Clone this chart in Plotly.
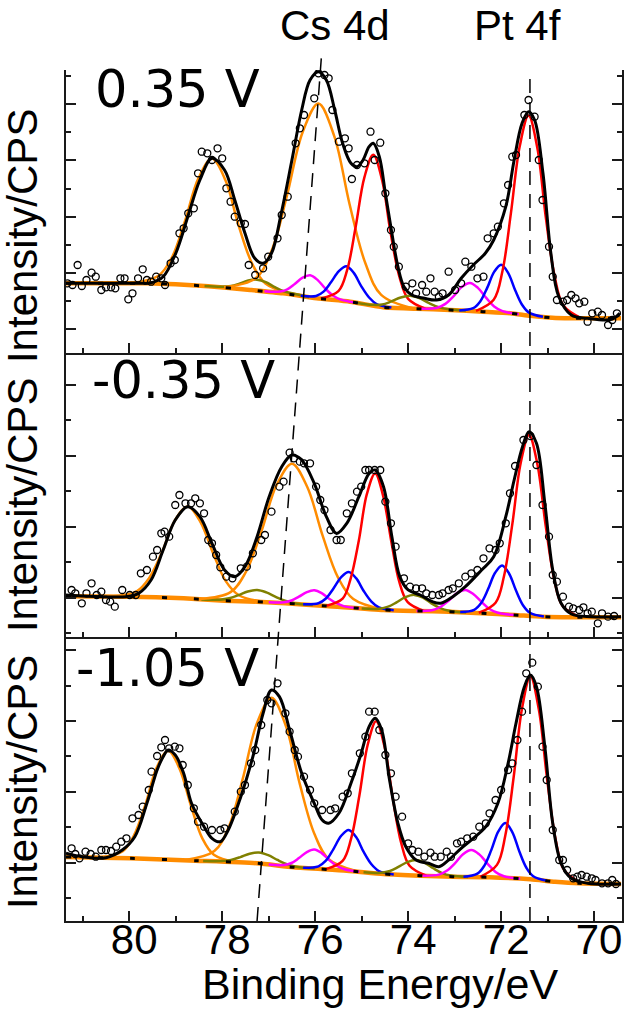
import plotly.graph_objects as go

# ---------------- colours / fonts ----------------
ORANGE = "#FF8C00"
RED = "#FF0000"
BLUE = "#0000FF"
MAGENTA = "#FF00FF"
OLIVE = "#808000"
AX = "#1a1a1a"
FONT = "Liberation Sans, Arial, sans-serif"
LABEL_FONT = "DejaVu Sans, Verdana, sans-serif"

# ---------------- shared x axis ----------------
ev_range = [81.36, 69.40]
x_major_ticks = [80, 78, 76, 74, 72, 70]
x_tick_labels = ["80", "78", "76", "74", "72", "70"]
x_minor_ticks = [81, 79, 77, 75, 73, 71]
cs_guide_ev = [77.25, 75.86]   # dashed guide (bottom, top)
pt_guide_ev = 71.38

panel_labels = ["0.35 V", "-0.35 V", "-1.05 V"]

# ======================= 0.35 V (top) =======================
p1_data_ev = [81.33,81.22,81.11,81.02,80.92,80.81,80.72,80.60,80.50,80.39,80.30,80.19,80.10,80.02,79.93,79.81,79.71,79.62,79.53,79.42,79.31,79.23,79.11,79.02,78.92,78.83,78.73,78.61,78.52,78.44,78.32,78.22,78.10,78.00,77.91,77.82,77.73,77.60,77.51,77.43,77.29,77.12,77.01,76.81,76.72,76.59,76.42,76.33,76.24,76.02,75.93,75.80,75.71,75.63,75.49,75.36,75.28,75.21,75.10,74.94,74.81,74.72,74.60,74.49,74.37,74.31,74.20,74.05,73.91,73.83,73.70,73.61,73.52,73.43,73.34,73.26,73.13,72.99,72.86,72.77,72.64,72.51,72.38,72.29,72.16,72.07,71.94,71.85,71.76,71.68,71.50,71.41,71.28,71.19,71.11,70.97,70.89,70.80,70.67,70.58,70.49,70.40,70.32,70.21,70.14,70.04,69.92,69.83,69.70,69.61,69.51]
p1_data_int = [70.0,68.3,88.3,67.3,73.3,80.6,76.6,63.3,66.0,66.0,65.0,75.0,75.0,54.0,60.0,75.0,84.0,73.3,71.6,76.6,75.0,68.3,90.0,93.3,120.0,125.0,140.0,145.0,180.0,201.6,200.0,193.3,205.0,195.0,165.0,151.6,136.6,130.0,129.3,88.3,78.3,85.0,96.6,115.0,138.3,156.6,210.0,225.0,238.3,255.0,280.0,278.3,275.0,243.3,211.6,215.0,205.0,174.3,188.3,190.0,221.6,193.3,210.6,160.0,123.3,106.6,86.6,66.6,70.0,60.0,68.3,61.6,75.0,61.6,56.6,60.0,81.6,63.3,70.0,91.6,86.6,75.0,76.6,115.0,120.0,126.6,150.0,168.3,196.6,198.3,238.3,253.3,236.6,193.3,153.3,106.6,76.6,53.3,51.6,53.3,58.3,55.0,50.0,51.6,31.6,40.0,41.6,38.3,28.3,33.3,40.0]
p1_fit_ev = [81.36,80.5,79.8,79.53,79.27,79.0,78.74,78.48,78.22,77.95,77.73,77.51,77.3,77.12,76.94,76.73,76.5,76.29,76.11,75.93,75.76,75.58,75.41,75.23,75.1,74.97,74.84,74.75,74.62,74.49,74.35,74.22,74.09,73.92,73.65,73.39,73.13,72.86,72.6,72.34,72.16,71.9,71.72,71.55,71.41,71.28,71.1,70.93,70.76,70.49,70.14,69.62,69.45]
p1_fit_int = [70,70,70,70.5,76.6,100,136.6,173.3,195,183.3,153.3,120,95,90,100,140,193.3,243.3,273.3,281.6,273.3,243.3,210,190,186.6,193.3,206.6,210,196.6,160,120,86.6,66.6,58.3,55,53.3,58.3,75,88.3,100,113.3,146.6,193.3,230,241.6,233.3,180,100,56.6,38.3,35,34,40]
p1_bg_ev = [81.36,79.6,79.0,78.3,77.4,76.69,75.97,75.25,74.54,73.82,73.1,72.39,71.8,71.37,70.9,70.5,69.42]
p1_bg_int = [70,70,69,67,63.3,60,55,51.6,46,44.6,43.3,41.6,40,37.5,35.5,35,35]
p1_or1_ev = [79.95,79.37,79.08,78.80,78.51,78.22,77.93,77.65,77.36,77.07,76.50]
p1_or1_int = [70.3,77.6,96.0,132.4,175.2,194.7,173.1,128.3,90.0,69.8,59.0]
p1_ol1_ev = [78.38,78.0,77.81,77.63,77.44,77.25,77.06,76.88,76.69,76.5,76.13]
p1_ol1_int = [67.2,66.5,67.3,69.7,72.8,73.6,71.1,66.5,62.3,60.0,56.1]
p1_or2_ev = [77.96,77.28,76.94,76.61,76.27,75.93,75.59,75.26,74.92,74.58,73.91]
p1_or2_int = [66.0,75.0,102.2,157.0,221.1,249.8,217.2,149.1,90.0,58.5,45.2]
p1_mg1_ev = [77.09,76.76,76.60,76.44,76.27,76.11,75.95,75.79,75.62,75.46,75.14]
p1_mg1_int = [62.0,61.7,64.0,69.3,75.6,78.0,73.4,65.1,57.9,54.0,50.7]
p1_bl1_ev = [76.31,75.98,75.82,75.66,75.49,75.33,75.17,75.01,74.84,74.68,74.36]
p1_bl1_int = [57.5,57.3,61.7,71.0,82.1,87.0,80.4,67.2,55.8,49.3,45.7]
p1_rd1_ev = [75.88,75.50,75.31,75.13,74.94,74.75,74.56,74.38,74.19,74.0,73.63]
p1_rd1_int = [54.9,62.2,83.6,126.3,176.2,198.6,173.1,121.2,77.0,54.4,44.6]
p1_ol2_ev = [75.16,74.76,74.56,74.36,74.16,73.96,73.76,73.56,73.36,73.16,72.76]
p1_ol2_int = [50.9,48.5,48.7,51.9,55.8,57.5,55.1,50.4,46.4,44.2,42.5]
p1_mg2_ev = [73.72,73.37,73.20,73.02,72.85,72.67,72.50,72.32,72.15,71.97,71.62]
p1_mg2_int = [44.5,45.6,49.4,57.1,66.2,70.3,65.4,55.4,46.9,42.2,39.1]
p1_bl2_ev = [72.9,72.6,72.45,72.3,72.15,72.0,71.85,71.7,71.55,71.4,71.1]
p1_bl2_int = [42.9,45.1,51.8,65.4,81.4,88.6,80.5,63.4,48.6,40.7,36.5]
p1_rd2_ev = [72.54,72.16,71.97,71.79,71.60,71.41,71.22,71.04,70.85,70.66,70.29]
p1_rd2_int = [42.4,53.5,82.5,139.9,207.0,237.7,205.1,136.1,77.4,47.7,35.4]
p1_y_major = [24, 80.3, 136.6, 193, 249.3]
p1_y_minor = [52.15, 108.45, 164.8, 221.1, 277.4]

# ======================= -0.35 V (middle) =======================
p2_data_ev = [81.24,81.16,81.02,80.92,80.81,80.70,80.60,80.50,80.41,80.31,80.15,79.99,79.86,79.75,79.62,79.49,79.40,79.31,79.24,79.14,79.01,78.92,78.79,78.67,78.58,78.48,78.39,78.30,78.22,78.13,78.04,77.91,77.78,77.60,77.47,77.34,77.16,77.08,76.94,76.77,76.68,76.55,76.46,76.33,76.24,76.11,75.98,75.89,75.80,75.67,75.54,75.45,75.32,75.21,75.10,75.01,74.92,74.84,74.72,74.60,74.49,74.37,74.27,74.09,73.96,73.83,73.70,73.61,73.48,73.34,73.26,73.13,73.04,72.91,72.77,72.64,72.51,72.38,72.25,72.12,72.03,71.90,71.81,71.70,71.52,71.37,71.24,71.11,70.97,70.89,70.80,70.67,70.54,70.45,70.32,70.23,70.14,70.05,69.92,69.83,69.70,69.57]
p2_data_int = [47.3,44.0,34.0,44.0,54.0,42.3,45.6,37.3,35.6,30.6,47.3,42.3,42.3,64.0,67.3,80.6,87.3,104.0,105.6,100.6,132.3,142.3,134.0,134.0,139.0,134.0,124.0,97.3,94.0,82.3,70.0,60.6,59.0,69.0,70.6,84.0,97.3,102.3,125.6,150.6,155.6,184.6,179.0,175.6,174.0,174.0,150.6,137.3,127.3,107.3,97.3,97.3,124.0,134.0,145.6,150.6,167.3,167.3,167.3,167.3,135.6,114.0,90.6,59.0,50.6,49.0,49.0,44.0,42.3,42.3,44.0,47.3,49.0,54.0,60.6,64.0,67.3,79.0,89.0,87.3,94.0,114.0,144.0,171.3,197.3,201.3,172.3,132.3,100.6,62.3,55.6,40.6,30.6,29.0,27.3,30.0,24.0,25.6,14.0,24.0,20.6,21.3]
p2_fit_ev = [81.36,80.59,80.06,79.80,79.53,79.27,79.01,78.74,78.48,78.22,77.95,77.73,77.51,77.25,76.99,76.72,76.50,76.29,76.02,75.76,75.54,75.32,75.06,74.84,74.71,74.53,74.35,74.18,74.00,73.74,73.48,73.30,73.04,72.77,72.42,72.16,71.90,71.72,71.54,71.40,71.24,71.06,70.89,70.71,70.49,70.05,69.42]
p2_fit_int = [42.3,40.6,40.6,43.9,57.3,87.3,117.3,130.6,120.6,94,67.3,60.6,70.6,100.6,140.6,170.6,182.3,177.3,153.9,120.6,103.9,113.9,140.6,163.9,167.3,150.6,100.6,60.6,47.3,42.3,35.6,34,40.6,50.6,67.3,80.6,120.6,157.3,190.6,205.6,194,134,67.3,34,23.3,20.6,20.6]
p2_bg_ev = [81.36,80.0,78.83,77.95,77.25,76.64,75.76,74.53,73.83,73.13,72.42,71.72,71.11,70.49,69.42]
p2_bg_int = [41,40.6,39,36.6,35.6,34,31.3,27.3,26.3,25.6,24,22.3,20.6,20,20]
p2_or1_ev = [80.39,79.84,79.57,79.29,79.02,78.74,78.47,78.19,77.92,77.64,77.09]
p2_or1_int = [40.8,46.0,59.3,85.6,116.7,130.8,115.4,83.3,55.9,42.0,35.4]
p2_ol1_ev = [78.45,78.05,77.85,77.65,77.45,77.25,77.05,76.85,76.65,76.45,76.05]
p2_ol1_int = [37.9,37.6,39.0,42.1,45.7,47.3,44.9,40.5,36.5,34.1,32.2]
p2_or2_ev = [78.48,77.82,77.49,77.16,76.83,76.50,76.17,75.84,75.51,75.18,74.52]
p2_or2_int = [38.3,45.2,65.4,105.4,152.3,173.6,150.3,101.6,59.9,38.2,27.6]
p2_mg1_ev = [77.0,76.67,76.51,76.35,76.18,76.02,75.86,75.70,75.53,75.37,75.05]
p2_mg1_int = [35.0,35.0,36.8,40.6,45.2,47.1,44.2,38.6,33.8,30.9,29.0]
p2_bl1_ev = [76.26,75.93,75.77,75.61,75.44,75.28,75.12,74.96,74.79,74.63,74.31]
p2_bl1_int = [33.0,34.0,38.8,48.6,60.2,65.3,59.1,46.5,35.6,29.8,27.1]
p2_rd1_ev = [75.76,75.41,75.24,75.06,74.89,74.71,74.54,74.36,74.19,74.01,73.66]
p2_rd1_int = [31.6,38.7,58.2,97.0,142.9,163.9,141.7,95.1,55.4,35.1,26.4]
p2_ol2_ev = [75.0,74.62,74.43,74.25,74.06,73.87,73.68,73.50,73.31,73.12,72.75]
p2_ol2_int = [28.8,28.6,30.6,34.9,40.1,42.4,39.6,33.9,29.2,26.6,24.7]
p2_mg2_ev = [73.82,73.47,73.30,73.12,72.95,72.77,72.60,72.42,72.25,72.07,71.72]
p2_mg2_int = [26.3,27.3,30.5,36.9,44.1,47.3,43.3,35.3,28.3,24.5,22.3]
p2_bl2_ev = [72.88,72.58,72.43,72.28,72.13,71.98,71.83,71.68,71.53,71.38,71.08]
p2_bl2_int = [25.2,27.5,34.3,48.2,64.5,71.9,63.8,46.7,32.1,24.5,20.7]
p2_rd2_ev = [72.48,72.12,71.94,71.76,71.58,71.40,71.22,71.04,70.86,70.68,70.32]
p2_rd2_int = [24.5,34.6,60.8,112.9,174.1,202.4,173.1,111.0,58.4,31.5,20.4]
p2_y_major = [39.6, 110.5, 181.4, 252.3]
p2_y_minor = [4.15, 75.05, 145.95, 216.85]

# ======================= -1.05 V (bottom) =======================
p3_data_ev = [81.24,81.16,81.07,80.94,80.83,80.72,80.60,80.50,80.39,80.28,80.17,80.06,79.93,79.80,79.71,79.58,79.52,79.40,79.31,79.23,79.14,79.02,78.92,78.85,78.74,78.61,78.52,78.39,78.22,78.04,77.95,77.73,77.60,77.51,77.38,77.29,77.16,77.03,76.94,76.81,76.64,76.55,76.44,76.37,76.24,76.11,76.02,75.85,75.67,75.57,75.41,75.30,75.21,75.04,74.92,74.84,74.72,74.62,74.49,74.37,74.27,74.13,74.00,73.91,73.78,73.65,73.52,73.43,73.30,73.17,73.08,72.95,72.86,72.73,72.60,72.47,72.33,72.25,72.12,72.00,71.85,71.76,71.65,71.55,71.46,71.33,71.21,71.11,71.02,70.89,70.75,70.67,70.58,70.45,70.36,70.27,70.16,70.05,69.97,69.83,69.70,69.61,69.53]
p3_data_int = [72.7,67.0,62.7,69.3,67.0,64.3,71.0,71.0,70.0,74.3,79.3,82.7,102.7,106.0,114.3,131.0,149.3,165.0,173.7,181.0,172.7,174.3,172.7,156.0,136.0,112.7,99.3,94.3,91.0,91.0,92.7,109.3,129.3,136.0,157.7,171.0,196.0,221.0,217.7,237.7,207.7,189.3,171.0,164.3,144.3,131.0,117.7,111.0,111.0,112.7,124.3,127.7,147.7,167.7,184.3,209.3,209.3,191.0,166.0,147.7,124.3,104.3,77.7,71.0,69.3,64.3,68.3,64.3,64.3,69.3,64.3,77.7,79.3,82.7,84.3,94.3,97.7,107.7,121.0,131.0,151.0,157.7,181.0,209.3,247.7,258.3,234.3,174.3,141.0,91.0,61.0,61.0,51.0,42.7,44.3,46.0,44.3,42.7,41.0,37.7,37.7,41.0,37.0]
p3_fit_ev = [81.36,81.02,80.50,80.15,79.88,79.62,79.40,79.27,79.16,79.01,78.83,78.66,78.39,78.22,78.04,77.87,77.60,77.34,77.12,76.94,76.77,76.55,76.29,76.02,75.85,75.71,75.49,75.23,75.01,74.84,74.71,74.57,74.40,74.22,74.05,73.83,73.56,73.34,73.13,72.86,72.60,72.33,72.07,71.85,71.68,71.50,71.37,71.24,71.06,70.89,70.71,70.49,70.14,69.42]
p3_fit_int = [67.7,64.3,63.3,71,84.3,117.7,151,164.3,171,166,147.7,117.7,94.3,82.7,79.3,91,124.3,164.3,207.7,231,224.3,191,147.7,117.7,101,97.7,107.7,137.7,167.7,194.3,202.7,191,141,97.7,74.3,61,57.7,54.3,61,72.7,82.7,94.3,117.7,157.7,197.7,234.3,246,234.3,174.3,97.7,57.7,42.7,37.7,37]
p3_bg_ev = [81.36,80.59,79.97,78.57,77.25,76.46,75.32,74.53,73.74,73.04,72.25,71.37,70.84,70.32,69.42]
p3_bg_int = [64,63.3,62.7,60.3,57.7,53.7,50.3,47,45.3,44.3,43.7,41.7,39.3,37.7,37]
p3_or1_ev = [80.63,80.14,79.90,79.65,79.41,79.16,78.92,78.67,78.43,78.18,77.69]
p3_or1_int = [63.5,69.7,85.5,116.6,153.4,170.3,152.6,115.0,82.9,66.3,58.7]
p3_ol1_ev = [78.41,78.01,77.81,77.61,77.41,77.21,77.01,76.81,76.61,76.41,76.01]
p3_ol1_int = [60.0,59.9,61.1,63.9,67.3,68.5,65.8,61.0,56.8,54.3,52.4]
p3_or2_ev = [78.79,78.17,77.86,77.56,77.25,76.94,76.63,76.33,76.02,75.71,75.10]
p3_or2_int = [61.0,69.9,94.0,141.8,198.1,223.2,195.0,136.8,87.5,61.9,49.7]
p3_mg1_ev = [77.0,76.67,76.51,76.35,76.18,76.02,75.86,75.70,75.53,75.37,75.05]
p3_mg1_int = [56.5,56.0,58.0,62.9,68.9,71.4,67.9,61.0,55.0,51.7,49.2]
p3_bl1_ev = [76.26,75.93,75.77,75.61,75.44,75.28,75.12,74.96,74.79,74.63,74.31]
p3_bl1_int = [53.2,54.7,60.3,71.7,85.2,91.1,84.0,69.3,56.7,50.0,46.6]
p3_rd1_ev = [75.77,75.41,75.23,75.05,74.87,74.69,74.51,74.33,74.15,73.97,73.61]
p3_rd1_int = [51.9,60.1,81.8,125.2,176.2,199.7,174.7,122.6,78.1,55.3,45.4]
p3_ol2_ev = [74.96,74.58,74.39,74.21,74.02,73.83,73.64,73.46,73.27,73.08,72.71]
p3_ol2_int = [48.8,48.2,50.0,54.1,58.9,61.0,58.1,52.7,47.9,45.4,44.0]
p3_mg2_ev = [73.69,73.34,73.17,72.99,72.82,72.64,72.47,72.29,72.12,71.94,71.59]
p3_mg2_int = [45.3,46.4,50.2,57.8,66.8,71.0,66.6,57.2,49.1,44.7,42.3]
p3_bl2_ev = [72.81,72.51,72.36,72.21,72.06,71.91,71.76,71.61,71.46,71.31,71.01]
p3_bl2_int = [44.2,47.3,55.4,71.1,89.6,97.9,88.9,69.7,53.5,44.8,40.2]
p3_rd2_ev = [72.45,72.09,71.91,71.73,71.55,71.37,71.19,71.01,70.83,70.65,70.29]
p3_rd2_int = [44.2,56.1,85.5,144.0,212.8,244.7,211.6,141.6,81.9,51.4,38.1]
p3_y_major = [58.3, 128.9, 200.1, 270.5]
p3_y_minor = [22.8, 93.5, 164.5, 235.2]

# ---------------- build figure ----------------
fig = go.Figure()


def add_panel(n, data_ev, data_int, fit_ev, fit_int, bg_ev, bg_int, comps):
    xa = "x" if n == 1 else "x%d" % n
    ya = "y" if n == 1 else "y%d" % n
    common = dict(xaxis=xa, yaxis=ya, hoverinfo="skip", showlegend=False)
    fig.add_trace(go.Scatter(x=bg_ev, y=bg_int, mode="lines",
                             line=dict(color=ORANGE, width=4.5, shape="spline", smoothing=0.6), **common))
    for cx, cy, col in comps:
        fig.add_trace(go.Scatter(x=cx, y=cy, mode="lines",
                                 line=dict(color=col, width=2.5, shape="spline", smoothing=1.0), **common))
    fig.add_trace(go.Scatter(x=bg_ev, y=bg_int, mode="lines",
                             line=dict(color="black", width=3, dash="5px,27px", shape="spline", smoothing=0.6), **common))
    fig.add_trace(go.Scatter(x=fit_ev, y=fit_int, mode="lines",
                             line=dict(color="black", width=3, shape="spline", smoothing=1.0), **common))
    fig.add_trace(go.Scatter(x=data_ev, y=data_int, mode="markers",
                             marker=dict(symbol="circle-open", size=7, color="black", line=dict(width=1.3)), **common))


add_panel(3, p1_data_ev, p1_data_int, p1_fit_ev, p1_fit_int, p1_bg_ev, p1_bg_int, [
    (p1_or1_ev, p1_or1_int, ORANGE), (p1_ol1_ev, p1_ol1_int, OLIVE), (p1_or2_ev, p1_or2_int, ORANGE),
    (p1_mg1_ev, p1_mg1_int, MAGENTA), (p1_bl1_ev, p1_bl1_int, BLUE), (p1_rd1_ev, p1_rd1_int, RED),
    (p1_ol2_ev, p1_ol2_int, OLIVE), (p1_mg2_ev, p1_mg2_int, MAGENTA), (p1_bl2_ev, p1_bl2_int, BLUE),
    (p1_rd2_ev, p1_rd2_int, RED)])
add_panel(2, p2_data_ev, p2_data_int, p2_fit_ev, p2_fit_int, p2_bg_ev, p2_bg_int, [
    (p2_or1_ev, p2_or1_int, ORANGE), (p2_ol1_ev, p2_ol1_int, OLIVE), (p2_or2_ev, p2_or2_int, ORANGE),
    (p2_mg1_ev, p2_mg1_int, MAGENTA), (p2_bl1_ev, p2_bl1_int, BLUE), (p2_rd1_ev, p2_rd1_int, RED),
    (p2_ol2_ev, p2_ol2_int, OLIVE), (p2_mg2_ev, p2_mg2_int, MAGENTA), (p2_bl2_ev, p2_bl2_int, BLUE),
    (p2_rd2_ev, p2_rd2_int, RED)])
add_panel(1, p3_data_ev, p3_data_int, p3_fit_ev, p3_fit_int, p3_bg_ev, p3_bg_int, [
    (p3_or1_ev, p3_or1_int, ORANGE), (p3_ol1_ev, p3_ol1_int, OLIVE), (p3_or2_ev, p3_or2_int, ORANGE),
    (p3_mg1_ev, p3_mg1_int, MAGENTA), (p3_bl1_ev, p3_bl1_int, BLUE), (p3_rd1_ev, p3_rd1_int, RED),
    (p3_ol2_ev, p3_ol2_int, OLIVE), (p3_mg2_ev, p3_mg2_int, MAGENTA), (p3_bl2_ev, p3_bl2_int, BLUE),
    (p3_rd2_ev, p3_rd2_int, RED)])

xcommon = dict(range=ev_range, showline=True, linecolor=AX, linewidth=1.6, ticks="inside", ticklen=10,
               tickwidth=1.5, tickcolor=AX, tickmode="array", tickvals=x_major_ticks, ticktext=x_tick_labels,
               minor=dict(tickmode="array", tickvals=x_minor_ticks, ticks="inside", ticklen=5,
                          tickwidth=1.5, tickcolor=AX),
               showgrid=False, zeroline=False, mirror=False, domain=[0, 1])


def ycommon(rng, major, minor, dom, anchor):
    return dict(range=rng, domain=dom, anchor=anchor, showline=True, linecolor=AX, linewidth=1.6,
                mirror="ticks", ticks="inside", ticklen=10.5, tickwidth=1.5, tickcolor=AX,
                tickmode="array", tickvals=major, showticklabels=False,
                minor=dict(tickmode="array", tickvals=minor, ticks="inside", ticklen=5.5,
                           tickwidth=1.5, tickcolor=AX),
                showgrid=False, zeroline=False)


bottom_x = dict(**xcommon, anchor="y", showticklabels=True, ticklabelshift=-5,
                tickfont=dict(family=FONT, size=42, color="black"))

fig.update_layout(
    width=640, height=1028,
    margin=dict(l=66, r=18, t=70, b=107),
    paper_bgcolor="white", plot_bgcolor="white",
    showlegend=False,
    xaxis=bottom_x,
    xaxis2=dict(**xcommon, anchor="y2", showticklabels=False),
    xaxis3=dict(**xcommon, anchor="y3", showticklabels=False),
    yaxis=ycommon([0, 283.7], p3_y_major, p3_y_minor, [0, 0.3334], "x"),
    yaxis2=ycommon([0, 284.0], p2_y_major, p2_y_minor, [0.3334, 0.6671], "x2"),
    yaxis3=ycommon([0, 283.3], p1_y_major, p1_y_minor, [0.6671, 1.0], "x3"),
)
try:
    fig.update_layout(xaxis_ticklabelstandoff=-19)
except Exception:
    pass

# dashed guide lines
fig.add_shape(type="line", xref="x", yref="paper", x0=cs_guide_ev[0], y0=0, x1=cs_guide_ev[1], y1=1.02,
              line=dict(color="black", width=1.5, dash="14px,9px"), layer="above")
fig.add_shape(type="line", xref="x", yref="paper", x0=pt_guide_ev, y0=0, x1=pt_guide_ev, y1=0.994,
              line=dict(color="black", width=1.5, dash="14px,9px"), layer="above")

ann = []
ann.append(dict(text="Cs 4d", x=0.4838, y=1.0823, xref="paper", yref="paper", xanchor="center",
                yanchor="top", showarrow=False, font=dict(family=FONT, size=42, color="black")))
ann.append(dict(text="Pt 4f", x=0.8129, y=1.0823, xref="paper", yref="paper", xanchor="center",
                yanchor="top", showarrow=False, font=dict(family=FONT, size=42, color="black")))
for lab, xp, yp in zip(panel_labels, [0.0486, 0.0432, 0.0135], [0.9771, 0.6357, 0.2969]):
    ann.append(dict(text=lab, x=xp, y=yp, xref="paper", yref="paper", xanchor="left", yanchor="middle",
                    showarrow=False, font=dict(family=LABEL_FONT, size=51, color="black")))
for yp in [0.8049, 0.4888, 0.1633]:
    ann.append(dict(text="Intensity/CPS", x=-0.0791, y=yp, xref="paper", yref="paper", xanchor="center",
                    yanchor="middle", textangle=-90, showarrow=False,
                    font=dict(family=FONT, size=42, color="black")))
ann.append(dict(text="Binding Energy/eV", x=0.5647, y=-0.0740, xref="paper", yref="paper", xanchor="center",
                yanchor="middle", showarrow=False, font=dict(family=FONT, size=43, color="black")))
fig.update_layout(annotations=ann)

fig.write_html("out.html")
